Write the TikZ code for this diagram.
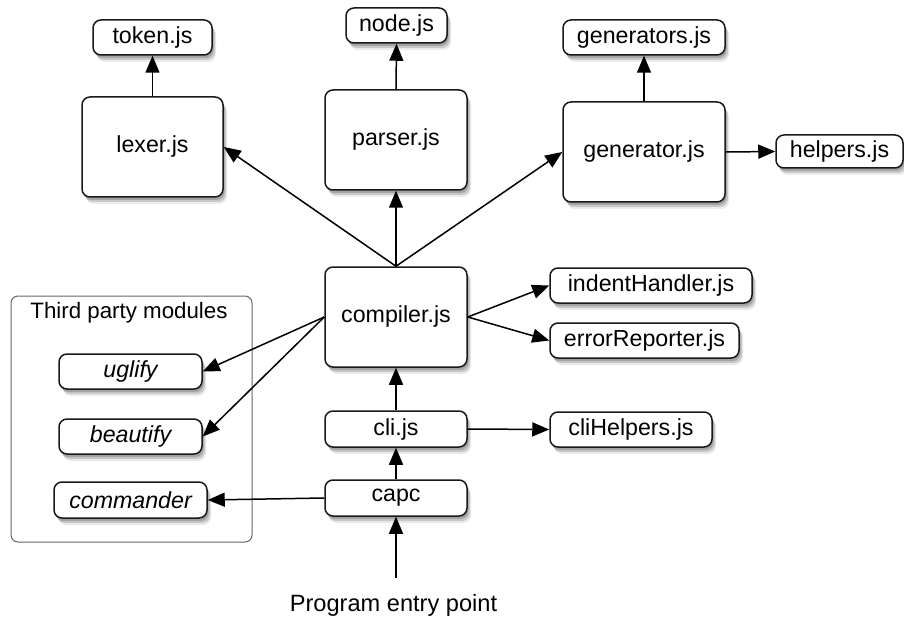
\documentclass[tikz,border=0pt]{standalone}
\usepackage{fontspec}
\setmainfont{Liberation Sans}
\usetikzlibrary{arrows.meta,shadows}
\tikzset{
  box/.style={draw=black!90, line width=1.5pt, rounded corners=8pt, fill=white, inner sep=0pt,
    font=\fontsize{23.2}{27}\selectfont,
    drop shadow={shadow xshift=1.5pt, shadow yshift=-3pt, opacity=0.18, fill=black},
    drop shadow={shadow xshift=3pt, shadow yshift=-5pt, opacity=0.15, fill=black},
    drop shadow={shadow xshift=4pt, shadow yshift=-7pt, opacity=0.08, fill=black}},
  smallbox/.style={box, minimum height=35pt},
  bigbox/.style={box, minimum width=142pt, minimum height=100pt},
  conn/.style={line width=1.5pt, -{Triangle[length=17pt,width=14pt]}},
  grp/.style={draw=black!60, line width=1pt, rounded corners=7pt}
}
\begin{document}
\begin{tikzpicture}[x=1pt,y=-1pt]
\useasboundingbox (0,0) rectangle (904,620);
% group
\draw[grp] (11,296) rectangle (252,542);
\node[font=\fontsize{22.3}{26}\selectfont] (grplabel) at (129,313) {Third party modules};
% top row
\node[smallbox, minimum width=119pt] (token) at (152.5,37.5) {token.js};
\node[bigbox, minimum width=141pt] (lexer) at (152.5,147) {lexer.js};
\node[smallbox, minimum width=101pt] (nodejs) at (396.5,25.5) {node.js};
\node[bigbox] (parser) at (396,140) {parser.js};
\node[smallbox, minimum width=162pt] (generators) at (644,37.5) {generators.js};
\node[bigbox, minimum width=162pt] (generator) at (644,152) {generator.js};
\node[smallbox, minimum width=127pt, minimum height=33pt] (helpers) at (839.5,151.5) {helpers.js};
% middle
\node[bigbox] (compiler) at (396,317) {compiler.js};
\node[smallbox, minimum width=202pt] (indent) at (651,285.5) {indentHandler.js};
\node[smallbox, minimum width=189pt] (error) at (644.5,340.5) {errorReporter.js};
\node[smallbox, minimum width=142pt, minimum height=36pt] (cli) at (396,429) {cli.js};
\node[smallbox, minimum width=162pt] (clihelpers) at (631,429.5) {cliHelpers.js};
\node[smallbox, minimum width=142pt, minimum height=36pt] (capc) at (396,498) {capc};
% third party
\node[smallbox, minimum width=143pt] (uglify) at (130.5,371.5) {\itshape uglify};
\node[smallbox, minimum width=143pt] (beautify) at (130.5,436.5) {\itshape beautify};
\node[smallbox, minimum width=153pt, minimum height=36pt] (commander) at (130.5,500) {\itshape commander};
% entry
\node[font=\fontsize{23.6}{28}\selectfont] (entrylabel) at (393.5,605) {Program entry point};
\coordinate (entry) at (396,578);
% connectors
\draw[conn] (lexer.north) -- (token.south);
\draw[conn] (parser.north) -- (nodejs.south);
\draw[conn] (generator.north) -- (generators.south);
\draw[conn] (generator.east) -- (helpers.west);
\draw[conn] (compiler.north) -- (lexer.east);
\draw[conn] (compiler.north) -- (parser.south);
\draw[conn] (compiler.north) -- (generator.west);
\draw[conn] (compiler.east) -- (indent.west);
\draw[conn] (compiler.east) -- (error.west);
\draw[conn] (compiler.west) -- (uglify.east);
\draw[conn] (compiler.west) -- (beautify.east);
\draw[conn] (cli.north) -- (compiler.south);
\draw[conn] (capc.north) -- (cli.south);
\draw[conn] (cli.east) -- (clihelpers.west);
\draw[conn] (capc.west) -- (commander.east);
\draw[conn] (entry) -- (capc.south);
\end{tikzpicture}
\end{document}
